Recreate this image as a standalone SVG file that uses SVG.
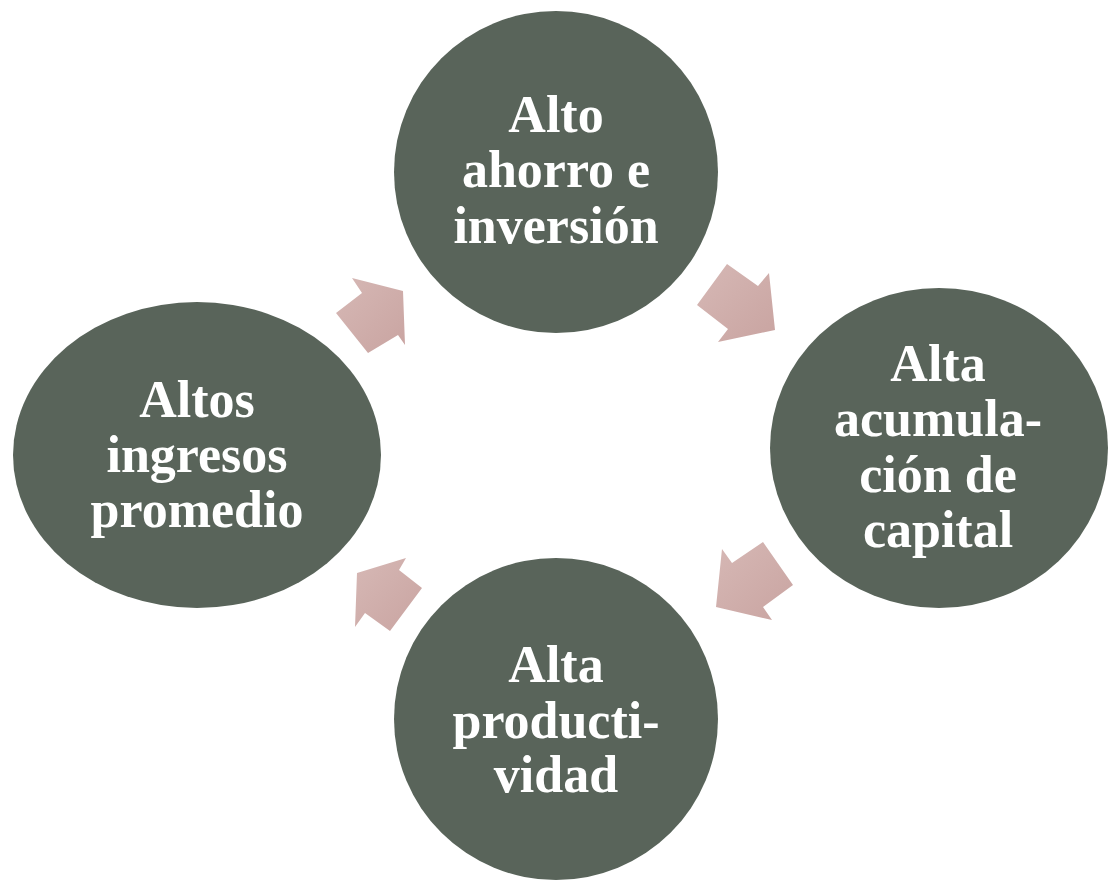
<svg xmlns="http://www.w3.org/2000/svg" width="1109" height="880" viewBox="0 0 1109 880">
<defs>
<linearGradient id="ag" x1="0" y1="0" x2="1" y2="1">
<stop offset="0" stop-color="#D6B8B5"/>
<stop offset="1" stop-color="#C9A4A1"/>
</linearGradient>
<style>
.node{fill:#59645A}
.lbl{fill:#FFFFFF;font-family:"Liberation Serif","Times New Roman",serif;font-weight:bold;font-size:52px;text-anchor:middle}
.arrow{fill:url(#ag)}
</style>
</defs>
<rect width="1109" height="880" fill="#FFFFFF"/>
<g id="connectors">
<polygon class="arrow" points="697,305 727,264 758,286 769,273 775,330 718,342 728,329"/>
<polygon class="arrow" points="763,542 793,585 763,607 772,620 716,607 722,549 732,563"/>
<polygon class="arrow" points="406,558 399,570 422,588 390,631 365,613 355,627 357,573"/>
<polygon class="arrow" points="352,278 403,291 405,345 398,335 368,353 336,313 362,293"/>
</g>
<g id="node-ahorro">
<ellipse class="node" cx="556" cy="172" rx="162" ry="161"/>
<text class="lbl" x="556" y="132">Alto</text>
<text class="lbl" x="556" y="187">ahorro e</text>
<text class="lbl" x="556" y="243">inversión</text>
</g>
<g id="node-capital">
<ellipse class="node" cx="939" cy="448" rx="169" ry="160"/>
<text class="lbl" x="938" y="381">Alta</text>
<text class="lbl" x="938" y="436">acumula-</text>
<text class="lbl" x="938" y="492">ción de</text>
<text class="lbl" x="938" y="547">capital</text>
</g>
<g id="node-productividad">
<ellipse class="node" cx="556" cy="719" rx="162" ry="161"/>
<text class="lbl" x="556" y="682">Alta</text>
<text class="lbl" x="556" y="738">producti-</text>
<text class="lbl" x="556" y="792">vidad</text>
</g>
<g id="node-ingresos">
<ellipse class="node" cx="197" cy="455" rx="184" ry="153"/>
<text class="lbl" x="197" y="417">Altos</text>
<text class="lbl" x="197" y="472">ingresos</text>
<text class="lbl" x="197" y="527">promedio</text>
</g>
</svg>
